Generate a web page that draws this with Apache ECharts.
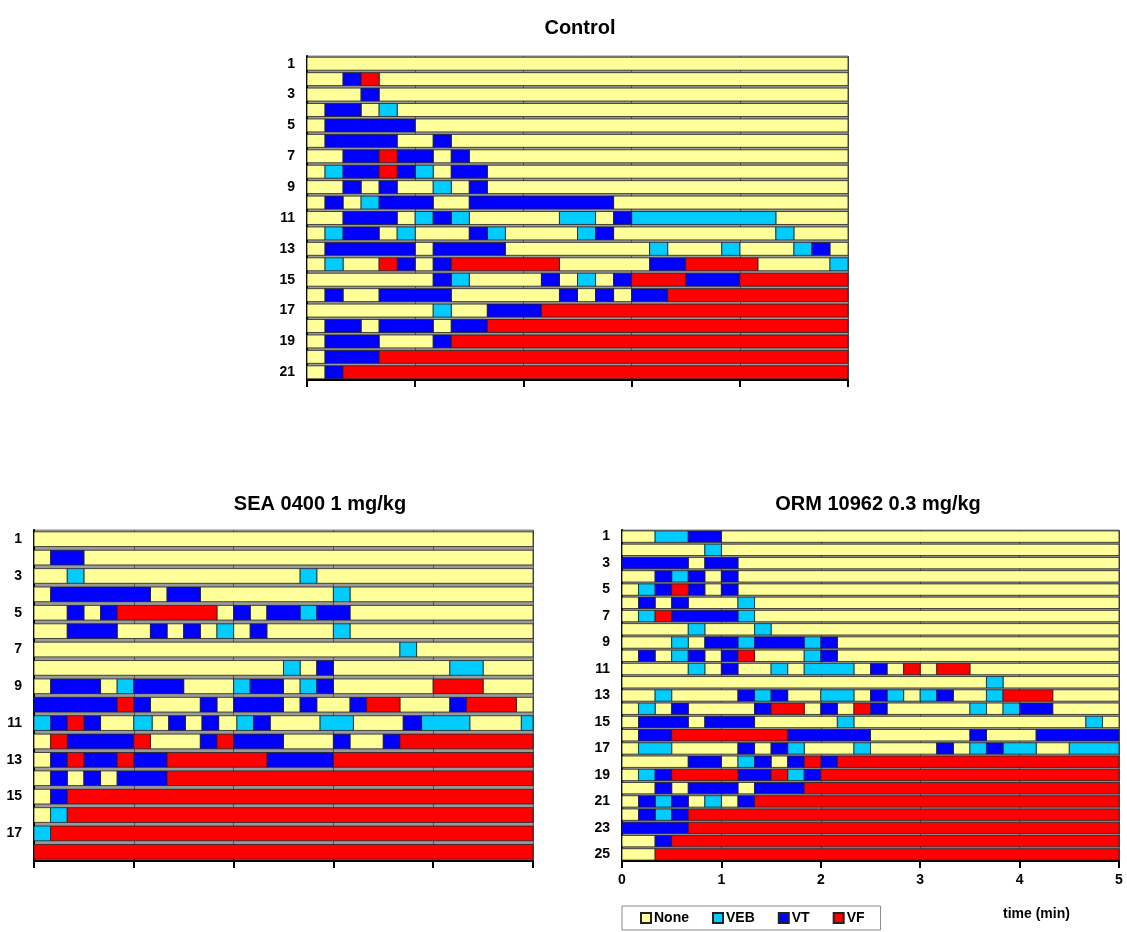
<!doctype html>
<html>
<head>
<meta charset="utf-8" />
<script src="https://cdn.jsdelivr.net/npm/echarts@6/dist/echarts.min.js"></script>
<style>
html, body { margin: 0; padding: 0; background: #fff; }
#chart { width: 1127px; height: 932px; }
</style>
</head>
<body>
<div id="chart"></div>
<script>
// each row: state code, seconds, state code, seconds ...
// N = None, E = VEB, T = VT, F = VF
const stateNames = ['None', 'VEB', 'VT', 'VF'];
const stateCodes = { N: 0, E: 1, T: 2, F: 3 };
const stateColors = ['#ffff99', '#00ccff', '#0000ff', '#ff0000'];

const controlRows = [
    ['N', 300],
    ['N', 20, 'T', 10, 'F', 10, 'N', 260],
    ['N', 30, 'T', 10, 'N', 260],
    ['N', 10, 'T', 20, 'N', 10, 'E', 10, 'N', 250],
    ['N', 10, 'T', 50, 'N', 240],
    ['N', 10, 'T', 40, 'N', 20, 'T', 10, 'N', 220],
    ['N', 20, 'T', 20, 'F', 10, 'T', 20, 'N', 10, 'T', 10, 'N', 210],
    ['N', 10, 'E', 10, 'T', 20, 'F', 10, 'T', 10, 'E', 10, 'N', 10, 'T', 20, 'N', 200],
    ['N', 20, 'T', 10, 'N', 10, 'T', 10, 'N', 20, 'E', 10, 'N', 10, 'T', 10, 'N', 200],
    ['N', 10, 'T', 10, 'N', 10, 'E', 10, 'T', 30, 'N', 20, 'T', 80, 'N', 130],
    ['N', 20, 'T', 30, 'N', 10, 'E', 10, 'T', 10, 'E', 10, 'N', 50, 'E', 20, 'N', 10, 'T', 10, 'E', 80, 'N', 40],
    ['N', 10, 'E', 10, 'T', 20, 'N', 10, 'E', 10, 'N', 30, 'T', 10, 'E', 10, 'N', 40, 'E', 10, 'T', 10, 'N', 90, 'E', 10, 'N', 30],
    ['N', 10, 'T', 50, 'N', 10, 'T', 40, 'N', 80, 'E', 10, 'N', 30, 'E', 10, 'N', 30, 'E', 10, 'T', 10, 'N', 10],
    ['N', 10, 'E', 10, 'N', 20, 'F', 10, 'T', 10, 'N', 10, 'T', 10, 'F', 60, 'N', 50, 'T', 20, 'F', 40, 'N', 40, 'E', 10],
    ['N', 70, 'T', 10, 'E', 10, 'N', 40, 'T', 10, 'N', 10, 'E', 10, 'N', 10, 'T', 10, 'F', 30, 'T', 30, 'F', 60],
    ['N', 10, 'T', 10, 'N', 20, 'T', 40, 'N', 60, 'T', 10, 'N', 10, 'T', 10, 'N', 10, 'T', 20, 'F', 100],
    ['N', 70, 'E', 10, 'N', 20, 'T', 30, 'F', 170],
    ['N', 10, 'T', 20, 'N', 10, 'T', 30, 'N', 10, 'T', 20, 'F', 200],
    ['N', 10, 'T', 30, 'N', 30, 'T', 10, 'F', 220],
    ['N', 10, 'T', 30, 'F', 260],
    ['N', 10, 'T', 10, 'F', 280]
];

const seaRows = [
    ['N', 300],
    ['N', 10, 'T', 20, 'N', 270],
    ['N', 20, 'E', 10, 'N', 130, 'E', 10, 'N', 130],
    ['N', 10, 'T', 60, 'N', 10, 'T', 20, 'N', 80, 'E', 10, 'N', 110],
    ['N', 20, 'T', 10, 'N', 10, 'T', 10, 'F', 60, 'N', 10, 'T', 10, 'N', 10, 'T', 20, 'E', 10, 'T', 20, 'N', 110],
    ['N', 20, 'T', 30, 'N', 20, 'T', 10, 'N', 10, 'T', 10, 'N', 10, 'E', 10, 'N', 10, 'T', 10, 'N', 40, 'E', 10, 'N', 110],
    ['N', 220, 'E', 10, 'N', 70],
    ['N', 150, 'E', 10, 'N', 10, 'T', 10, 'N', 70, 'E', 20, 'N', 30],
    ['N', 10, 'T', 30, 'N', 10, 'E', 10, 'T', 30, 'N', 30, 'E', 10, 'T', 20, 'N', 10, 'E', 10, 'T', 10, 'N', 60, 'F', 30, 'N', 30],
    ['T', 50, 'F', 10, 'T', 10, 'N', 30, 'T', 10, 'N', 10, 'T', 30, 'N', 10, 'T', 10, 'N', 20, 'T', 10, 'F', 20, 'N', 30, 'T', 10, 'F', 30, 'N', 10],
    ['E', 10, 'T', 10, 'F', 10, 'T', 10, 'N', 20, 'E', 11, 'N', 10, 'T', 10, 'N', 10, 'T', 10, 'N', 11, 'E', 10, 'T', 10, 'N', 30, 'E', 20, 'N', 30, 'T', 11, 'E', 29, 'N', 31, 'E', 7],
    ['N', 10, 'F', 10, 'T', 40, 'F', 10, 'N', 30, 'T', 10, 'F', 10, 'T', 30, 'N', 30, 'T', 10, 'N', 20, 'T', 10, 'F', 80],
    ['N', 10, 'T', 10, 'F', 10, 'T', 20, 'F', 10, 'T', 20, 'F', 60, 'T', 40, 'F', 120],
    ['N', 10, 'T', 10, 'N', 10, 'T', 10, 'N', 10, 'T', 30, 'F', 220],
    ['N', 10, 'T', 10, 'F', 280],
    ['N', 10, 'E', 10, 'F', 280],
    ['E', 10, 'F', 290],
    ['F', 300]
];

const ormRows = [
    ['N', 20, 'E', 20, 'T', 20, 'N', 240],
    ['N', 50, 'E', 10, 'N', 240],
    ['T', 40, 'N', 10, 'T', 20, 'N', 230],
    ['N', 20, 'T', 10, 'E', 10, 'T', 10, 'N', 10, 'T', 10, 'N', 230],
    ['N', 10, 'E', 10, 'T', 10, 'F', 10, 'T', 10, 'N', 10, 'T', 10, 'N', 230],
    ['N', 10, 'T', 10, 'N', 10, 'T', 10, 'N', 30, 'E', 10, 'N', 220],
    ['N', 10, 'E', 10, 'F', 10, 'T', 40, 'E', 10, 'N', 220],
    ['N', 40, 'E', 10, 'N', 30, 'E', 10, 'N', 210],
    ['N', 30, 'E', 10, 'N', 10, 'T', 20, 'E', 10, 'T', 30, 'E', 10, 'T', 10, 'N', 170],
    ['N', 10, 'T', 10, 'N', 10, 'E', 10, 'T', 10, 'N', 10, 'T', 10, 'F', 10, 'N', 30, 'E', 10, 'T', 10, 'N', 170],
    ['N', 40, 'E', 10, 'N', 10, 'T', 10, 'N', 20, 'E', 10, 'N', 10, 'E', 30, 'N', 10, 'T', 10, 'N', 10, 'F', 10, 'N', 10, 'F', 20, 'N', 90],
    ['N', 220, 'E', 10, 'N', 70],
    ['N', 20, 'E', 10, 'N', 40, 'T', 10, 'E', 10, 'T', 10, 'N', 20, 'E', 20, 'N', 10, 'T', 10, 'E', 10, 'N', 10, 'E', 10, 'T', 10, 'N', 20, 'E', 10, 'F', 30, 'N', 40],
    ['N', 10, 'E', 10, 'N', 10, 'T', 10, 'N', 40, 'T', 10, 'F', 20, 'N', 10, 'T', 10, 'N', 10, 'F', 10, 'T', 10, 'N', 50, 'E', 10, 'N', 10, 'E', 10, 'T', 20, 'N', 40],
    ['N', 10, 'T', 30, 'N', 10, 'T', 30, 'N', 50, 'E', 10, 'N', 140, 'E', 10, 'N', 10],
    ['N', 10, 'T', 20, 'F', 70, 'T', 50, 'N', 60, 'T', 10, 'N', 30, 'T', 50],
    ['N', 10, 'E', 20, 'N', 40, 'T', 10, 'N', 10, 'T', 10, 'E', 10, 'N', 30, 'E', 10, 'N', 40, 'T', 10, 'N', 10, 'E', 10, 'T', 10, 'E', 20, 'N', 20, 'E', 30],
    ['N', 40, 'T', 20, 'N', 10, 'E', 10, 'T', 10, 'N', 10, 'T', 10, 'F', 10, 'T', 10, 'F', 170],
    ['N', 10, 'E', 10, 'T', 10, 'F', 40, 'T', 20, 'F', 10, 'E', 10, 'T', 10, 'F', 180],
    ['N', 20, 'T', 10, 'N', 10, 'T', 30, 'N', 10, 'T', 30, 'F', 190],
    ['N', 10, 'T', 10, 'E', 10, 'T', 10, 'N', 10, 'E', 10, 'N', 10, 'T', 10, 'F', 220],
    ['N', 10, 'T', 10, 'E', 10, 'T', 10, 'F', 260],
    ['T', 40, 'F', 260],
    ['N', 20, 'T', 10, 'F', 270],
    ['N', 20, 'F', 280]
];

const xTicks = [0, 1, 2, 3, 4, 5];

// turn rows into [row, startMin, endMin] lists, one per state
function toSegments(rows) {
    let out = stateNames.map(() => []);
    rows.forEach((row, i) => {
        let t = 0;
        for (let k = 0; k < row.length; k += 2) {
            let d = row[k + 1];
            out[stateCodes[row[k]]].push([i, t / 60, (t + d) / 60]);
            t += d;
        }
    });
    return out;
}

function renderSeg(ratio) {
    return function (params, api) {
        let row = api.value(0);
        let a = api.coord([api.value(1), row]);
        let b = api.coord([api.value(2), row]);
        let h = api.size([0, 1])[1] * ratio;
        return {
            type: 'rect',
            shape: { x: a[0], y: a[1] - h / 2, width: b[0] - a[0], height: h },
            style: { fill: api.visual('color'), stroke: '#222', lineWidth: 0.8 }
        };
    };
}

const FONT = 'Liberation Sans, Arial, sans-serif';

function makeAxes(idx, rows, showLabels) {
    let x = {
        gridIndex: idx,
        type: 'value',
        min: 0,
        max: 5,
        interval: 1,
        axisLine: { show: true, onZero: false, lineStyle: { color: '#000', width: 2 } },
        axisTick: { show: true, length: 7, lineStyle: { color: '#000', width: 2 } },
        axisLabel: {
            show: showLabels, margin: 12, color: '#000',
            fontFamily: FONT, fontWeight: 'bold', fontSize: 14,
            formatter: v => xTicks.indexOf(v) >= 0 ? String(v) : ''
        },
        splitLine: { show: true, lineStyle: { color: '#555', width: 1 } }
    };
    let y = {
        gridIndex: idx,
        type: 'category',
        inverse: true,
        data: rows.map((r, i) => String(i + 1)),
        axisLine: { show: true, lineStyle: { color: '#000', width: 2 } },
        axisTick: { show: false },
        axisLabel: {
            interval: 1, margin: 12, color: '#000',
            fontFamily: FONT, fontWeight: 'bold', fontSize: 14
        },
        splitLine: { show: false }
    };
    return [x, y];
}

const panels = [
    { rows: controlRows, grid: { left: 307, top: 56, width: 541, height: 324 }, ratio: 0.84, labels: false },
    { rows: seaRows, grid: { left: 34, top: 530, width: 499, height: 331 }, ratio: 0.8, labels: false },
    { rows: ormRows, grid: { left: 622, top: 530, width: 497, height: 331 }, ratio: 0.86, labels: true }
];

let grids = [], xAxes = [], yAxes = [], series = [];
panels.forEach((p, idx) => {
    grids.push(Object.assign({
        show: true, backgroundColor: '#9a9a9a', borderColor: '#888', borderWidth: 1
    }, p.grid));
    let ax = makeAxes(idx, p.rows, p.labels);
    xAxes.push(ax[0]);
    yAxes.push(ax[1]);
    let segs = toSegments(p.rows);
    segs.forEach((data, s) => {
        series.push({
            type: 'custom',
            name: stateNames[s],
            xAxisIndex: idx,
            yAxisIndex: idx,
            itemStyle: { color: stateColors[s], borderColor: '#222', borderWidth: 0.8 },
            encode: { x: [1, 2], y: 0 },
            renderItem: renderSeg(p.ratio),
            data: data,
            silent: true
        });
    });
});

const titleStyle = { fontFamily: FONT, fontWeight: 'bold', fontSize: 20, color: '#000' };

let option = {
    animation: false,
    backgroundColor: '#fff',
    title: [
        { text: 'Control', left: 575, top: 13, textAlign: 'center', textStyle: titleStyle },
        { text: 'SEA 0400 1 mg/kg', left: 315, top: 489, textAlign: 'center', textStyle: titleStyle },
        { text: 'ORM 10962 0.3 mg/kg', left: 873, top: 489, textAlign: 'center', textStyle: titleStyle }
    ],
    legend: {
        data: stateNames,
        left: 622,
        top: 906,
        orient: 'horizontal',
        icon: 'rect',
        itemWidth: 10,
        itemHeight: 10,
        itemGap: 23,
        padding: [5, 16, 5, 18],
        borderColor: '#888',
        borderWidth: 1,
        selectedMode: false,
        textStyle: { fontFamily: FONT, fontWeight: 'bold', fontSize: 14, color: '#000', padding: [0, 0, 0, -2] }
    },
    graphic: [{
        type: 'text',
        left: 1003,
        top: 907,
        style: { text: 'time (min)', font: 'bold 14px ' + FONT, fill: '#000' }
    }],
    grid: grids,
    xAxis: xAxes,
    yAxis: yAxes,
    series: series
};

var myChart = echarts.init(document.getElementById('chart'), null, { renderer: 'canvas' });
myChart.setOption(option);
</script>
</body>
</html>
